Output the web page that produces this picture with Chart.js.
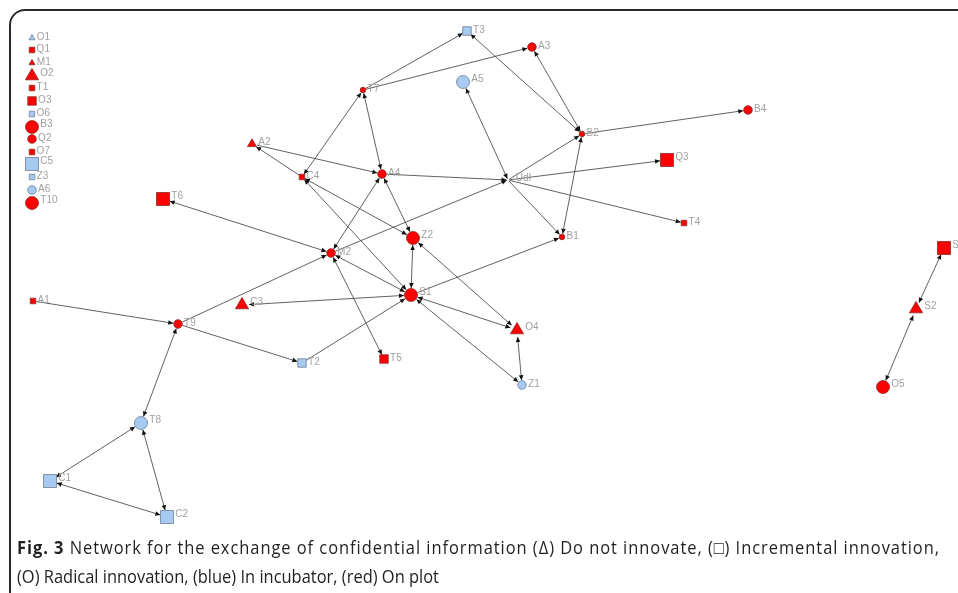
<!DOCTYPE html>
<html><head><meta charset="utf-8">
<script src="https://cdn.jsdelivr.net/npm/chart.js@4.4.0/dist/chart.umd.min.js"></script>
<style>
html,body{margin:0;padding:0;background:#fff;overflow:hidden;}
#wrap{position:relative;width:958px;height:593px;overflow:hidden;}
#frame{position:absolute;left:9px;top:9px;width:1000px;height:700px;border-top:2px solid #2a2a2a;border-left:2px solid #2a2a2a;border-top-left-radius:16px;}
#c{position:absolute;left:0;top:0;}
#cap{position:absolute;left:17px;top:533px;font-family:"Open Sans";font-size:18px;line-height:29px;color:#231f20;transform-origin:0 0;white-space:nowrap;}
#l1,#l2{display:inline-block;}
</style></head>
<body><div id="wrap"><div id="frame"></div><canvas id="c" width="958" height="593" style="width:958px;height:593px"></canvas>
<div id="cap"><span id="l1"><b>Fig. 3</b> Network for the exchange of confidential information (Δ) Do not innovate, (□) Incremental innovation,</span><br><span id="l2">(O) Radical innovation, (blue) In incubator, (red) On plot</span></div></div>
<script>
// ---- data ----
const nodeNames = ['O1','Q1','M1','O2','T1','O3','O6','B3','Q2','O7','C5','Z3','A6','T10',
  'T3','A3','A5','T7','B2','B4','A2','Q3','C4','A4','UdI','T6','T4','B1','Z2','M2','S1',
  'A1','C3','T9','O4','T2','T5','Z1','T8','C1','C2','S','S2','O5'];
const nodeX = [32,32,32,32,32,32,32,32,32,32,32,32,32,32,
  467,532,463,363,582,748,252,667,302,382,508,163,684,562,413,331,411,
  33,242,178,517,302,384,522,141,50,167,944,916,883];
const nodeY = [38,50,63,76,88,101,114,127,139,152,164,177,190,203,
  31,47,82,90,134,110,144,160,177,174,180,199,223,237,238,253,295,
  301,305,324,330,363,359,385,423,481,517,248,309,387];
// innovation: 'none' (triangle), 'incremental' (square), 'radical' (circle), '' unknown
const nodeInnovation = ['none','incremental','none','none','incremental','incremental','incremental','radical','radical','incremental','incremental','incremental','radical','radical',
  'incremental','radical','radical','radical','radical','radical','none','incremental','incremental','radical','','incremental','incremental','radical','radical','radical','radical',
  'incremental','none','radical','none','incremental','incremental','radical','radical','incremental','incremental','incremental','none','radical'];
// location: 'incubator' (blue) or 'plot' (red)
const nodeLocation = ['incubator','plot','plot','plot','plot','plot','incubator','plot','plot','plot','incubator','incubator','incubator','plot',
  'incubator','plot','incubator','plot','plot','plot','plot','plot','plot','plot','plot','plot','plot','plot','plot','plot','plot',
  'plot','plot','plot','plot','incubator','plot','incubator','incubator','incubator','incubator','plot','plot','plot'];
const nodeLevel = [1,1,1,3,1,2,1,3,2,1,3,1,2,3,
  2,2,3,1,1,2,2,3,1,2,0,3,1,1,3,2,3,
  1,3,2,3,2,2,2,3,3,3,3,3,3];
const edgeSource = ['T7','T7','B2','B2','UdI','UdI','B2','UdI','UdI','UdI','B2','S1','A4','M2','A2','C4','C4','T7','C4','C4','A4','M2','M2','T9','M2','M2','Z2','Z2','S1','T2','S1','S1','O4','A1','T9','T9','C1','C2','C1','S','S2'];
const edgeTarget = ['T3','A3','T3','A3','A5','B2','B4','Q3','T4','B1','B1','B1','UdI','UdI','A4','A2','T7','A4','Z2','S1','Z2','A4','T6','M2','S1','T5','S1','O4','C3','S1','O4','Z1','Z1','T9','T2','T8','T8','T8','C2','S2','O5'];
const edgeMutual = [0,0,1,1,1,0,0,0,0,0,1,0,0,0,0,0,1,1,1,1,1,1,1,0,1,1,1,1,1,0,1,1,1,0,0,1,1,1,1,1,1];

// ---- styling ----
const shapeOf = {none:'triangle', incremental:'rect', radical:'circle', '':'circle'};
const radiusOf = {
  circle:[0,2.8,4.3,6.5],
  rect:[0,3.9,6.0,9.2],
  triangle:[0,3.5,5.2,7.6]
};
const halfOf = {circle:[1,2.8,4.3,6.5], rect:[1,2.8,4.3,6.5], triangle:[1,3,4.5,6.5]};
const fillOf = {incubator:'#a6caf0', plot:'#ff0000'};
const edgeOf = {incubator:'#6e7f95', plot:'#8a2a2a'};

const shapes = nodeInnovation.map(v => shapeOf[v]);
const radii = shapes.map((s,i) => radiusOf[s][nodeLevel[i]]);
const halves = shapes.map((s,i) => halfOf[s][nodeLevel[i]]);
const idx = {}; nodeNames.forEach((n,i) => idx[n] = i);

const edgePlugin = {
  id:'edges',
  beforeDatasetsDraw(chart){
    const ctx = chart.ctx, pts = chart.getDatasetMeta(0).data;
    ctx.save();
    ctx.strokeStyle = '#505050'; ctx.fillStyle = '#111'; ctx.lineWidth = 0.9;
    const arrow = (x1,y1,x2,y2) => {
      const a = Math.atan2(y2-y1,x2-x1), L = 5, W = 2.3;
      ctx.beginPath(); ctx.moveTo(x2,y2);
      ctx.lineTo(x2-L*Math.cos(a)+W*Math.sin(a), y2-L*Math.sin(a)-W*Math.cos(a));
      ctx.lineTo(x2-L*Math.cos(a)-W*Math.sin(a), y2-L*Math.sin(a)+W*Math.cos(a));
      ctx.closePath(); ctx.fill();
    };
    edgeSource.forEach((s,k) => {
      const i = idx[s], j = idx[edgeTarget[k]];
      const p = pts[i], q = pts[j];
      const dx = q.x-p.x, dy = q.y-p.y, d = Math.hypot(dx,dy), ux = dx/d, uy = dy/d;
      const x1 = p.x+ux*(halves[i]+0.5), y1 = p.y+uy*(halves[i]+0.5);
      const x2 = q.x-ux*(halves[j]+0.5), y2 = q.y-uy*(halves[j]+0.5);
      ctx.beginPath(); ctx.moveTo(x1,y1); ctx.lineTo(x2,y2); ctx.stroke();
      arrow(x1,y1,x2,y2);
      if (edgeMutual[k]) arrow(x2,y2,x1,y1);
    });
    ctx.restore();
  }
};
const labelPlugin = {
  id:'nodeLabels',
  afterDatasetsDraw(chart){
    const ctx = chart.ctx, pts = chart.getDatasetMeta(0).data;
    ctx.save();
    ctx.font = '10px "Liberation Sans", Arial, sans-serif';
    ctx.fillStyle = '#a0a0a0'; ctx.textBaseline = 'middle'; ctx.textAlign = 'left';
    nodeNames.forEach((n,i) => {
      const h = nodeLevel[i] === 0 ? 6 : halves[i];
      ctx.fillText(n, pts[i].x + h + 1.8, pts[i].y - 0.55*h + 1.2);
    });
    ctx.restore();
  }
};

new Chart(document.getElementById('c'), {
  type:'scatter',
  data:{datasets:[{
    data: nodeNames.map((n,i) => ({x:nodeX[i], y:nodeY[i]})),
    pointStyle: shapes,
    pointRadius: radii.map((r,i) => nodeLevel[i] === 0 ? 0 : r),
    pointHoverRadius: radii.map((r,i) => nodeLevel[i] === 0 ? 0 : r),
    backgroundColor: nodeLocation.map(l => fillOf[l]),
    borderColor: nodeLocation.map(l => edgeOf[l]),
    borderWidth: 0.8
  }]},
  options:{
    responsive:false, devicePixelRatio:1, animation:false,
    layout:{padding:0, autoPadding:false},
    plugins:{legend:{display:false}, tooltip:{enabled:false}},
    scales:{
      x:{type:'linear', min:0, max:958, display:false},
      y:{type:'linear', min:0, max:593, reverse:true, display:false}
    }
  },
  plugins:[edgePlugin, labelPlugin]
});

// fit caption: second line sets the horizontal scale, first line gets letter spacing to full width
const cap = document.getElementById('cap');
const l1 = document.getElementById('l1');
const l2 = document.getElementById('l2');
const s = 422 / l2.getBoundingClientRect().width;
const w1 = l1.getBoundingClientRect().width;
const n1 = l1.textContent.length;
l1.style.letterSpacing = ((923 / s - w1) / n1) + 'px';
cap.style.transform = 'scaleX(' + s + ')';
</script>
</body></html>
